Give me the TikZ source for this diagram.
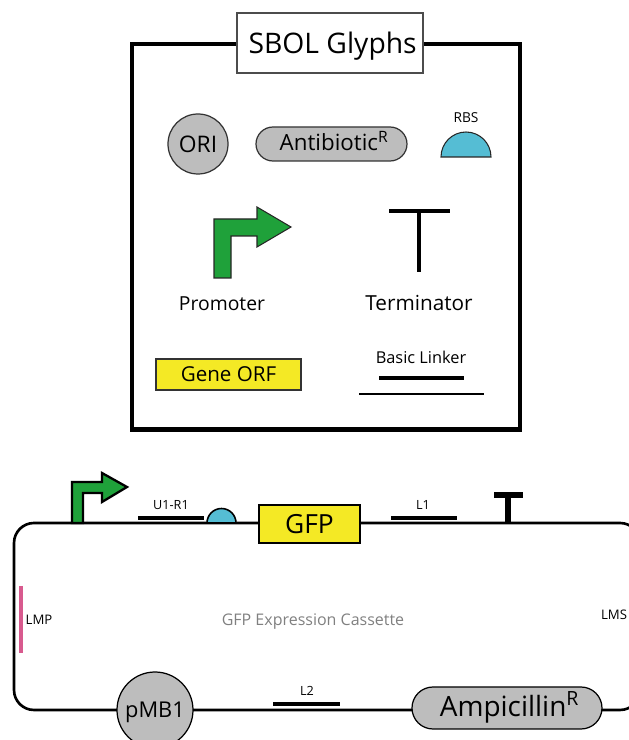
\documentclass[tikz,border=0pt]{standalone}
\usepackage{fontspec}
\setmainfont{Open Sans}
\usetikzlibrary{shapes.misc}
\definecolor{promgreen}{HTML}{1FA13A}
\definecolor{orfyellow}{HTML}{F4E925}
\definecolor{rbsblue}{HTML}{55BDD4}
\definecolor{oriGray}{HTML}{BDBDBD}
\definecolor{lmppink}{HTML}{D85A8E}
\tikzset{
  frame/.style={draw=black, line width=2.3pt},
  titlebox/.style={draw=black!70, fill=white, line width=0.6pt, minimum width=3.72cm, minimum height=1.2cm, inner sep=0pt, text depth=0pt, font=\fontsize{16.1}{18}\selectfont},
  backbone/.style={draw=black, line width=1.5pt, rounded corners=0.4cm},
  origin/.style={circle, draw=black!80, fill=oriGray, line width=0.7pt, inner sep=0pt, text depth=0pt},
  marker/.style={rounded rectangle, draw=black!80, fill=oriGray, line width=0.7pt, inner sep=0pt, text depth=0pt},
  orf/.style={draw=black!80, fill=orfyellow, line width=0.7pt, inner sep=0pt, text depth=0pt},
  promoter/.style={draw=black!85, fill=promgreen, line width=0.6pt},
  rbs/.style={draw=black!85, fill=rbsblue, line width=0.6pt},
  linker/.style={draw=black, line width=1.9pt},
  note/.style={font=\fontsize{7.2}{8}\selectfont, inner sep=0pt, text depth=0pt},
  glyphtext/.style={font=\fontsize{11}{13}\selectfont, inner sep=0pt, text depth=0pt}
}

\begin{document}
\begin{tikzpicture}
  \useasboundingbox (0,0) rectangle (12.58,14.8);
  % legend
  \draw[frame] (2.64,13.92) rectangle (10.4,6.21);
  \node[titlebox] (title) at (6.6,13.94) {\hspace*{3pt}SBOL Glyphs};
  \node[origin, minimum size=1.2cm, font=\fontsize{13}{15}\selectfont] (ori) at (3.96,11.92) {ORI};
  \node[marker, minimum width=3.02cm, minimum height=0.68cm, text height=7.5pt, font=\fontsize{12.7}{15}\selectfont] (antibiotic) at (6.63,11.92) {\hspace*{3pt}Antibiotic\textsuperscript{R}};
  \draw[rbs] (8.82,11.66) arc (180:0:0.5) -- cycle;
  \node[note, font=\fontsize{7.8}{9}\selectfont] (rbslabel) at (9.32,12.44) {RBS};
  \draw[promoter] (4.28,9.24) -- (4.28,10.42) -- (5.14,10.42) -- (5.14,10.66) -- (5.82,10.26) -- (5.14,9.86) -- (5.14,10.08) -- (4.62,10.08) -- (4.62,9.24) -- cycle;
  \node[glyphtext] (promoterlabel) at (4.44,8.72) {Promoter};
  \draw[black, line width=2.2pt] (7.78,10.58) -- (9,10.58);
  \draw[black, line width=2.2pt] (8.38,10.58) -- (8.38,9.36);
  \node[glyphtext, font=\fontsize{11.8}{14}\selectfont] (terminatorlabel) at (8.38,8.74) {Terminator};
  \node[orf, minimum width=2.9cm, minimum height=0.62cm, font=\fontsize{11.7}{14}\selectfont] (geneorf) at (4.57,7.31) {Gene ORF};
  \node[note, font=\fontsize{9.3}{11}\selectfont] (linkerlabel) at (8.42,7.66) {Basic Linker};
  \draw[linker] (7.58,7.24) -- (9.28,7.24);
  \draw[black, line width=1.2pt] (7.18,6.92) -- (9.68,6.92);
  % cassette
  \draw[backbone] (12.8,4.34) -- (0.28,4.34) -- (0.28,0.6) -- (12.8,0.6) -- cycle;
  \draw[promoter, draw=black, fill=promgreen, line width=1.3pt] (1.44,4.34) -- (1.44,5.16) -- (2.04,5.16) -- (2.04,5.34) -- (2.54,5.06) -- (2.04,4.76) -- (2.04,4.94) -- (1.66,4.94) -- (1.66,4.34) -- cycle;
  \draw[linker] (2.76,4.44) -- (4.08,4.44);
  \node[note] (u1r1) at (3.42,4.7) {U1-R1};
  \draw[rbs, draw=black, line width=0.9pt] (4.14,4.34) arc (180:0:0.29) -- cycle;
  \node[orf, draw=black, minimum width=2.02cm, minimum height=0.76cm, font=\fontsize{15}{18}\selectfont] (gfp) at (6.19,4.32) {GFP};
  \draw[linker] (7.82,4.44) -- (9.14,4.44);
  \node[note] (l1) at (8.46,4.7) {L1};
  \draw[black, line width=2.9pt] (10.16,4.34) -- (10.16,4.9);
  \draw[black, line width=2.9pt] (9.88,4.9) -- (10.46,4.9);
  \draw[lmppink, line width=1.8pt] (0.42,3.08) -- (0.42,1.74);
  \node[note, font=\fontsize{7.5}{9}\selectfont] (lmp) at (0.78,2.4) {LMP};
  \node[note, font=\fontsize{7.5}{9}\selectfont] (lms) at (12.28,2.5) {LMS};
  \node[glyphtext, text=black!50, font=\fontsize{9.1}{11}\selectfont] (cassette) at (6.26,2.4) {GFP Expression Cassette};
  \node[origin, draw=black, minimum size=1.52cm, font=\fontsize{12.4}{15}\selectfont] (pmb1) at (3.1,0.6) {pMB1};
  \draw[linker] (5.46,0.72) -- (6.8,0.72);
  \node[note] (l2) at (6.14,0.98) {L2};
  \node[marker, draw=black, minimum width=3.8cm, minimum height=0.84cm, text height=10.2pt, font=\fontsize{15.9}{18}\selectfont] (ampicillin) at (10.14,0.64) {\hspace*{3pt}Ampicillin\textsuperscript{R}};
\end{tikzpicture}
\end{document}
